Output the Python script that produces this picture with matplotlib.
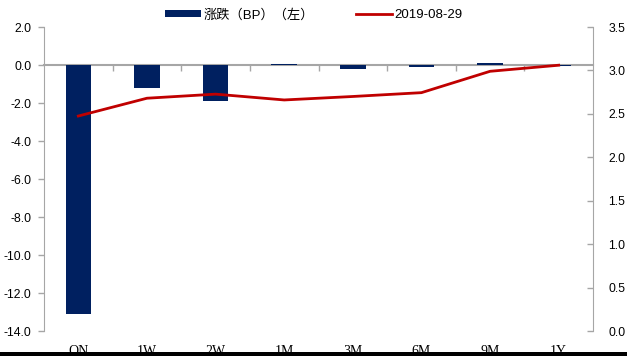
import matplotlib.pyplot as plt
from matplotlib.patches import Rectangle

# Tenor buckets, change in BP (left axis) and rate on 2019-08-29 (right axis)
tenors = ["ON", "1W", "2W", "1M", "3M", "6M", "9M", "1Y"]
change_bp = [-13.1, -1.2, -1.9, 0.05, -0.2, -0.12, 0.1, -0.05]
rate_0829 = [2.475, 2.68, 2.727, 2.66, 2.70, 2.744, 2.99, 3.06]

left_ticks = [2.0, 0.0, -2.0, -4.0, -6.0, -8.0, -10.0, -12.0, -14.0]
right_ticks = [0.0, 0.5, 1.0, 1.5, 2.0, 2.5, 3.0, 3.5]

navy = "#002060"
red = "#C00000"
grey = "#A6A6A6"
tick_font = "Liberation Sans"

fig = plt.figure(figsize=(6.27, 3.56), dpi=100)
ax = fig.add_axes([44 / 627, 25 / 356, 549 / 627, 304 / 356])
x = list(range(len(tenors)))

bars = ax.bar(x, change_bp, width=0.37, color=navy, zorder=3, label="涨跌（BP）（左）")
ax.set_xlim(-0.5, len(tenors) - 0.5)
ax.set_ylim(-14, 2)
ax.set_yticks(left_ticks)
ax.set_yticklabels([f"{v:.1f}" for v in left_ticks], fontsize=8.8, family=tick_font)
ax.tick_params(axis="y", direction="out", length=4, width=1, color=grey, pad=5)

# zero line doubles as the category axis, with ticks at bucket boundaries
ax.spines["bottom"].set_position(("data", 0))
ax.spines["bottom"].set_color(grey)
ax.spines["bottom"].set_linewidth(1.5)
ax.spines["bottom"].set_zorder(2)
ax.set_xticks([i + 0.5 for i in range(len(tenors) - 1)])
ax.set_xticklabels([])
ax.tick_params(axis="x", direction="out", length=4, width=1, color=grey)
ax.spines["top"].set_visible(False)
ax.spines["right"].set_visible(False)
ax.spines["left"].set_color(grey)

for i, name in enumerate(tenors):
    ax.text(i, -0.045, name, transform=ax.get_xaxis_transform(), ha="center", va="top",
            fontsize=10, family="Liberation Serif")

ax2 = ax.twinx()
line, = ax2.plot(x, rate_0829, color=red, linewidth=2, zorder=4, label="2019-08-29")
ax2.set_ylim(0, 3.5)
ax2.set_yticks(right_ticks)
ax2.set_yticklabels([f"{v:.1f}" for v in right_ticks], fontsize=8.8, family=tick_font)
ax2.tick_params(axis="y", direction="in", length=4, width=1, color=grey, pad=11)
for side in ["top", "bottom", "left"]:
    ax2.spines[side].set_visible(False)
ax2.spines["right"].set_color(grey)

fig.legend(handles=[bars, line], loc="center", bbox_to_anchor=(314 / 627, 1 - 15 / 356),
           ncol=2, frameon=False, handlelength=2.7, handleheight=0.45, handletextpad=0.2,
           columnspacing=3.2,
           prop={"family": ["Liberation Sans", "Noto Sans CJK SC"], "size": 9.5})

# dark strip along the lower edge
fig.patches.append(Rectangle((0, 0), 1, 4 / 356, transform=fig.transFigure,
                             facecolor="black", edgecolor="none", zorder=10))

fig.savefig("out.png", dpi=100)
